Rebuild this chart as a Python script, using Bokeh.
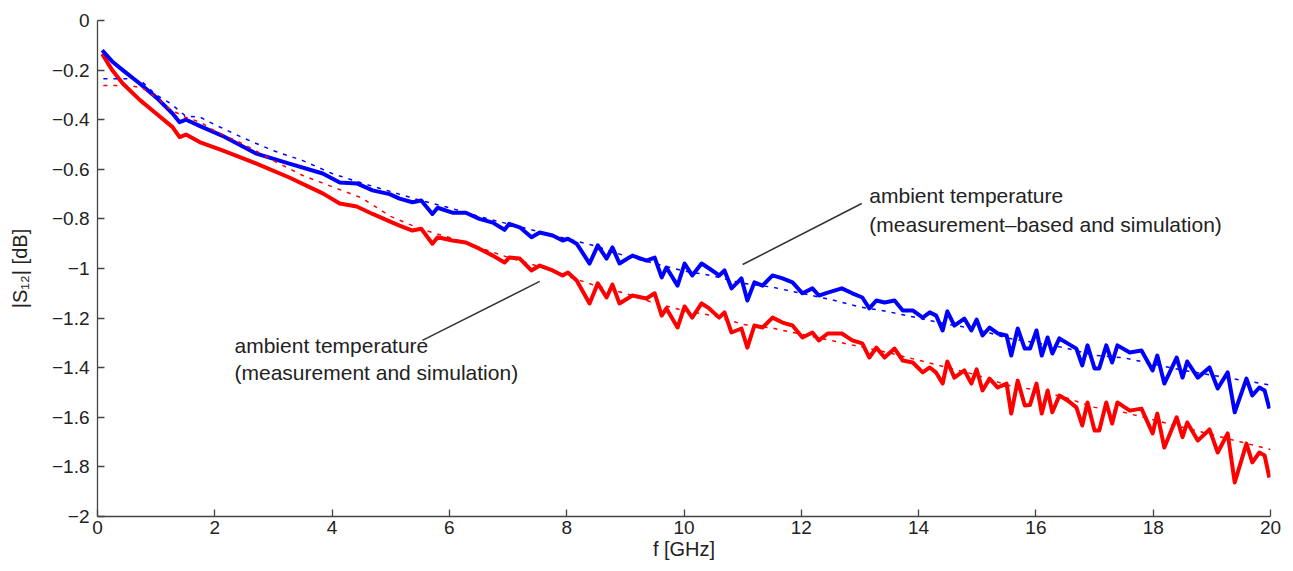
from bokeh.plotting import figure
from bokeh.models import Range1d, FixedTicker, CustomJSTickFormatter, Label, Segment, ColumnDataSource
from bokeh.embed import file_html
from bokeh.resources import INLINE

# ---- data ----
freq_meas = [0.08, 0.25, 0.43, 0.72, 1.0, 1.28, 1.40, 1.51, 1.74, 2.13, 2.71, 3.27, 3.84, 4.13, 4.42, 4.69,
             4.98, 5.15, 5.37, 5.52, 5.71, 5.80, 6.05, 6.28, 6.51, 6.74, 6.94, 7.02, 7.20, 7.40, 7.54, 7.76,
             7.93, 8.02, 8.17, 8.39, 8.53, 8.68, 8.78, 8.90, 9.12, 9.36, 9.50, 9.62, 9.70, 9.89, 10.01, 10.14,
             10.30, 10.43, 10.60, 10.69, 10.81, 10.98, 11.08, 11.20, 11.34, 11.51, 11.68, 11.85, 12.02, 12.19,
             12.30, 12.45, 12.69, 12.87, 13.04, 13.16, 13.28, 13.42, 13.59, 13.73, 13.90, 14.07, 14.19, 14.30,
             14.41, 14.49, 14.61, 14.78, 14.90, 14.99, 15.09, 15.21, 15.35, 15.50, 15.58, 15.69, 15.81, 15.90,
             16.01, 16.10, 16.20, 16.28, 16.40, 16.54, 16.69, 16.79, 16.88, 17.00, 17.08, 17.20, 17.30, 17.39,
             17.60, 17.80, 17.99, 18.07, 18.19, 18.40, 18.50, 18.58, 18.76, 18.96, 19.10, 19.27, 19.39, 19.59,
             19.69, 19.81, 19.90, 19.98]

s12_meas_blue = [-0.12, -0.165, -0.20, -0.254, -0.31, -0.375, -0.41, -0.40, -0.425, -0.465, -0.537, -0.577,
                 -0.617, -0.653, -0.657, -0.685, -0.70, -0.718, -0.733, -0.726, -0.78, -0.755, -0.775, -0.775,
                 -0.80, -0.815, -0.844, -0.82, -0.834, -0.874, -0.855, -0.867, -0.887, -0.88, -0.90, -0.98,
                 -0.907, -0.96, -0.915, -0.98, -0.948, -0.968, -0.956, -1.036, -0.996, -1.069, -0.98, -1.028,
                 -0.98, -1.0, -1.028, -1.008, -1.08, -1.04, -1.129, -1.056, -1.069, -1.028, -1.04, -1.056,
                 -1.10, -1.08, -1.109, -1.097, -1.08, -1.10, -1.117, -1.161, -1.129, -1.137, -1.129, -1.169,
                 -1.169, -1.198, -1.177, -1.19, -1.25, -1.173, -1.23, -1.202, -1.25, -1.206, -1.27, -1.238,
                 -1.262, -1.27, -1.351, -1.242, -1.323, -1.323, -1.25, -1.351, -1.278, -1.343, -1.282, -1.302,
                 -1.323, -1.391, -1.31, -1.403, -1.403, -1.31, -1.379, -1.31, -1.339, -1.331, -1.411, -1.351,
                 -1.464, -1.359, -1.44, -1.375, -1.44, -1.399, -1.484, -1.419, -1.58, -1.444, -1.512, -1.48,
                 -1.492, -1.565]

s12_meas_red = [-0.135, -0.20, -0.254, -0.32, -0.375, -0.43, -0.47, -0.46, -0.49, -0.524, -0.577, -0.633,
                -0.697, -0.738, -0.75, -0.78, -0.81, -0.827, -0.847, -0.84, -0.90, -0.874, -0.887, -0.895,
                -0.92, -0.948, -0.976, -0.956, -0.96, -1.008, -0.988, -1.008, -1.028, -1.016, -1.048, -1.141,
                -1.06, -1.117, -1.065, -1.141, -1.109, -1.121, -1.10, -1.19, -1.161, -1.238, -1.153, -1.198,
                -1.141, -1.161, -1.198, -1.177, -1.258, -1.242, -1.319, -1.23, -1.238, -1.198, -1.218, -1.23,
                -1.278, -1.258, -1.29, -1.262, -1.262, -1.29, -1.302, -1.359, -1.319, -1.359, -1.323, -1.371,
                -1.379, -1.419, -1.399, -1.42, -1.464, -1.375, -1.44, -1.411, -1.464, -1.407, -1.492, -1.444,
                -1.48, -1.464, -1.585, -1.452, -1.552, -1.55, -1.464, -1.585, -1.492, -1.58, -1.512, -1.532,
                -1.56, -1.633, -1.54, -1.653, -1.653, -1.54, -1.625, -1.54, -1.573, -1.565, -1.665, -1.585,
                -1.722, -1.60, -1.68, -1.621, -1.694, -1.649, -1.742, -1.665, -1.863, -1.706, -1.782, -1.742,
                -1.754, -1.843]

freq_sim = [0.1, 0.5, 0.75, 1.0, 1.25, 1.5, 1.75, 2.0, 2.5, 3.0, 3.5, 4.0, 4.5, 5.0, 5.5, 6.0, 6.5, 7.0, 7.5,
            8.0, 8.5, 9.0, 9.5, 10.0, 10.5, 11.0, 11.5, 12.0, 12.5, 13.0, 13.5, 14.0, 14.5, 15.0, 15.5, 16.0,
            16.5, 17.0, 17.5, 18.0, 18.5, 19.0, 19.5, 20.0]

s12_sim_blue = [-0.235, -0.235, -0.245, -0.30, -0.335, -0.385, -0.39, -0.42, -0.475, -0.525, -0.565, -0.617,
                -0.655, -0.69, -0.725, -0.755, -0.79, -0.82, -0.85, -0.88, -0.91, -0.95, -0.98, -1.01,
                -1.03, -1.06, -1.075, -1.10, -1.125, -1.155, -1.175, -1.20, -1.225, -1.245, -1.28, -1.30,
                -1.32, -1.35, -1.36, -1.385, -1.41, -1.43, -1.45, -1.47]

s12_sim_red = [-0.262, -0.262, -0.27, -0.31, -0.36, -0.39, -0.41, -0.445, -0.50, -0.565, -0.625, -0.67,
               -0.715, -0.79, -0.84, -0.875, -0.915, -0.955, -0.99, -1.03, -1.07, -1.10, -1.14, -1.17, -1.19,
               -1.225, -1.24, -1.265, -1.29, -1.315, -1.34, -1.37, -1.40, -1.43, -1.47, -1.49, -1.52, -1.56,
               -1.58, -1.61, -1.64, -1.67, -1.70, -1.73]

x_ticks = [0, 2, 4, 6, 8, 10, 12, 14, 16, 18, 20]
y_ticks = [-2.0, -1.8, -1.6, -1.4, -1.2, -1.0, -0.8, -0.6, -0.4, -0.2, 0.0]

label_blue = ["ambient temperature", "(measurement\u2013based and simulation)"]
label_red = ["ambient temperature", "(measurement and simulation)"]

FONT = "Liberation Sans"
TXT = "#222222"

p = figure(frame_width=1173, frame_height=496, output_backend="svg", toolbar_location=None,
           x_range=Range1d(0, 20), y_range=Range1d(-2, 0),
           min_border_left=97, min_border_right=12, min_border_top=20, min_border_bottom=47)
p.outline_line_color = None
p.xgrid.visible = False
p.ygrid.visible = False
p.background_fill_color = "white"
p.border_fill_color = "white"

fmt = CustomJSTickFormatter(code="var v = Math.round(tick*10)/10; return v.toString().replace('-', '\u2212');")

for ax in (p.xaxis[0], p.yaxis[0]):
    ax.major_tick_in = 7
    ax.major_tick_out = 0
    ax.minor_tick_in = 0
    ax.minor_tick_out = 0
    ax.axis_line_color = "#444444"
    ax.axis_line_width = 1.3
    ax.major_tick_line_color = "#444444"
    ax.major_tick_line_width = 1.3
    ax.major_label_text_font = FONT
    ax.major_label_text_font_size = "19px"
    ax.major_label_text_color = TXT
    ax.axis_label_text_font = FONT
    ax.axis_label_text_font_size = "20px"
    ax.axis_label_text_font_style = "normal"
    ax.axis_label_text_color = TXT
    ax.formatter = fmt

p.xaxis[0].ticker = FixedTicker(ticks=x_ticks)
p.yaxis[0].ticker = FixedTicker(ticks=y_ticks)
p.xaxis[0].axis_label = "f [GHz]"
p.yaxis[0].axis_label = "|S\u2081\u2082| [dB]"
p.xaxis[0].major_label_standoff = 4
p.xaxis[0].axis_label_standoff = 1
p.yaxis[0].major_label_standoff = 8
p.yaxis[0].axis_label_standoff = 18

# measured (solid) lines
p.line(freq_meas, s12_meas_red, line_color="#ff0000", line_width=4, line_join="round")
p.line(freq_meas, s12_meas_blue, line_color="#0000ff", line_width=4, line_join="round")
# simulated (dotted) lines
p.line(freq_sim, s12_sim_red, line_color="#ff0000", line_width=1.5, line_dash="4 6")
p.line(freq_sim, s12_sim_blue, line_color="#0000ff", line_width=1.5, line_dash="4 6")

# annotation leader lines
ann = ColumnDataSource(dict(x0=[11.0, 5.54], y0=[-0.984, -1.29], x1=[13.03, 7.54], y1=[-0.738, -1.052]))
p.add_glyph(ann, Segment(x0="x0", y0="y0", x1="x1", y1="y1", line_color="#333333", line_width=1.5))

for i, t in enumerate(label_blue):
    p.add_layout(Label(x=13.16, y=[-0.706, -0.823][i], text=t, text_font=FONT, text_font_size="21px",
                       text_color=TXT, text_baseline="middle", text_align="left"))
for i, t in enumerate(label_red):
    p.add_layout(Label(x=2.336, y=[-1.31, -1.42][i], text=t, text_font=FONT, text_font_size="21px",
                       text_color=TXT, text_baseline="middle", text_align="left"))

open("out.html", "w").write(file_html(p, INLINE))
